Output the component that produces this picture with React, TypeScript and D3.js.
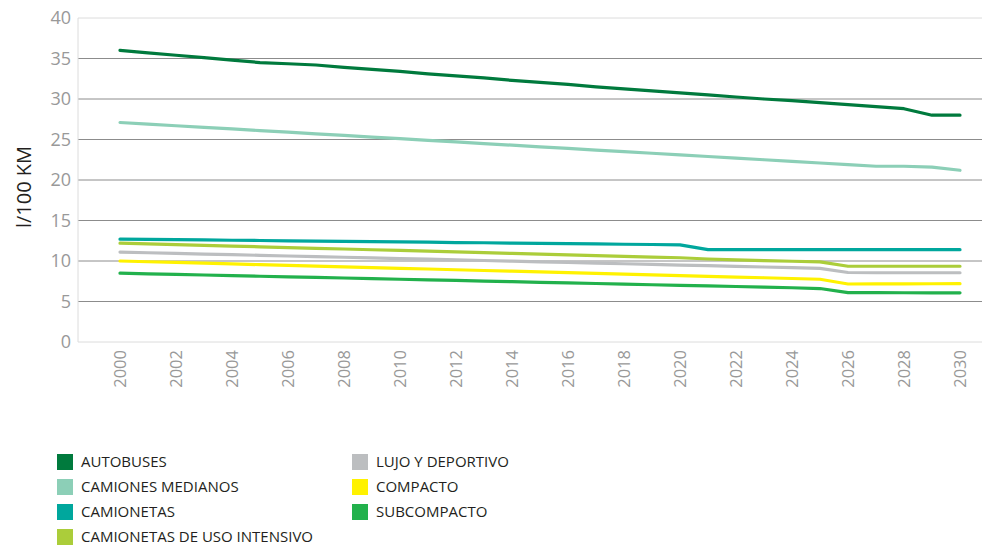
import React from "react";
import * as d3 from "d3";

const years = d3.range(2000, 2031);

const autobuses = [36.0, 35.7, 35.4, 35.1, 34.8, 34.5, 34.35, 34.2, 33.9, 33.65, 33.4, 33.1, 32.85, 32.6, 32.3, 32.05, 31.8, 31.5, 31.25, 31.0, 30.75, 30.5, 30.25, 30.0, 29.8, 29.55, 29.3, 29.05, 28.8, 28.0, 28.0];
const camionesMedianos = [27.1, 26.9, 26.7, 26.5, 26.3, 26.1, 25.9, 25.7, 25.5, 25.3, 25.1, 24.9, 24.7, 24.5, 24.3, 24.1, 23.9, 23.7, 23.5, 23.3, 23.1, 22.9, 22.7, 22.5, 22.3, 22.1, 21.9, 21.7, 21.7, 21.6, 21.2];
const camionetas = [12.7, 12.67, 12.63, 12.6, 12.56, 12.53, 12.49, 12.46, 12.42, 12.39, 12.35, 12.32, 12.28, 12.25, 12.21, 12.18, 12.14, 12.11, 12.07, 12.04, 12.0, 11.4, 11.4, 11.4, 11.4, 11.4, 11.4, 11.4, 11.4, 11.4, 11.4];
const usoIntensivo = [12.2, 12.11, 12.02, 11.93, 11.84, 11.75, 11.66, 11.57, 11.48, 11.39, 11.3, 11.21, 11.12, 11.03, 10.94, 10.85, 10.76, 10.67, 10.58, 10.49, 10.4, 10.25, 10.15, 10.05, 9.97, 9.9, 9.35, 9.35, 9.35, 9.35, 9.35];
const lujoDeportivo = [11.1, 11.02, 10.94, 10.86, 10.78, 10.7, 10.62, 10.54, 10.46, 10.38, 10.3, 10.22, 10.14, 10.06, 9.98, 9.9, 9.82, 9.74, 9.66, 9.58, 9.5, 9.42, 9.34, 9.26, 9.18, 9.08, 8.58, 8.55, 8.55, 8.55, 8.55];
const compacto = [10.0, 9.91, 9.82, 9.73, 9.64, 9.55, 9.46, 9.37, 9.28, 9.19, 9.1, 9.01, 8.92, 8.83, 8.74, 8.65, 8.56, 8.47, 8.38, 8.29, 8.2, 8.11, 8.02, 7.93, 7.84, 7.75, 7.16, 7.17, 7.18, 7.19, 7.2];
const subcompacto = [8.5, 8.42, 8.35, 8.27, 8.2, 8.12, 8.05, 7.97, 7.9, 7.82, 7.75, 7.67, 7.6, 7.52, 7.45, 7.37, 7.3, 7.22, 7.15, 7.07, 7.0, 6.92, 6.85, 6.77, 6.7, 6.6, 6.1, 6.09, 6.08, 6.07, 6.07];

const seriesNames = ["AUTOBUSES", "CAMIONES MEDIANOS", "CAMIONETAS", "CAMIONETAS DE USO INTENSIVO", "LUJO Y DEPORTIVO", "COMPACTO", "SUBCOMPACTO"];
const seriesValues = [autobuses, camionesMedianos, camionetas, usoIntensivo, lujoDeportivo, compacto, subcompacto];
const seriesColors = ["#007a3d", "#8ccfb7", "#00a79d", "#abcd3a", "#bcbec0", "#fff200", "#22b14c"];

const yTicks = [0, 5, 10, 15, 20, 25, 30, 35, 40];
const xTicks = d3.range(2000, 2031, 2);
const yTitle = "l/100 KM";

export default function App() {
  const W = 984, H = 548;
  const left = 78, right = 982, top = 18, bottom = 342;
  const x = d3.scaleLinear().domain([2000, 2030]).range([120, 960]);
  const y = d3.scaleLinear().domain([0, 40]).range([bottom, top]);
  const line = d3.line<number>().x((_, i) => x(years[i])).y((d) => y(d));
  const font = "'Open Sans', sans-serif";

  const legendCols = [
    { x: 57, items: [0, 1, 2, 3] },
    { x: 352, items: [4, 5, 6] },
  ];

  return (
    <svg width={W} height={H} style={{ position: "absolute", left: 0, top: 0, background: "#fff" }}>
      {yTicks.map((t) => (
        <line key={t} x1={left} x2={right} y1={y(t)} y2={y(t)}
          stroke={t === 0 || t === 40 ? "#dcdcdc" : "#8c8c8c"} strokeWidth={1} />
      ))}
      <line x1={left} x2={left} y1={top} y2={bottom} stroke="#dcdcdc" strokeWidth={1} />
      {yTicks.map((t) => (
        <text key={t} x={71} y={y(t)} dy="0.35em" textAnchor="end" fontFamily={font}
          fontSize={18} fill="#999999">{t}</text>
      ))}
      {xTicks.map((t) => (
        <text key={t} transform={`translate(${x(t)},350) rotate(-90)`} dy="0.35em" textAnchor="end"
          fontFamily={font} fontSize={16.5} fill="#999999">{t}</text>
      ))}
      <text transform={`translate(24,${187}) rotate(-90)`} dy="0.35em" textAnchor="middle"
        fontFamily={font} fontSize={20} fill="#231f20">{yTitle}</text>
      {seriesValues.map((vals, i) => (
        <path key={i} d={line(vals) || ""} fill="none" stroke={seriesColors[i]} strokeWidth={3.2}
          strokeLinejoin="round" strokeLinecap="round" />
      ))}
      {legendCols.map((col, ci) =>
        col.items.map((si, ri) => (
          <g key={`${ci}-${si}`} transform={`translate(${col.x},${462 + ri * 25})`}>
            <rect x={0} y={-8} width={16} height={16} fill={seriesColors[si]} />
            <text x={24} y={0} dy="0.35em" fontFamily={font} fontSize={15} fill="#231f20">{seriesNames[si]}</text>
          </g>
        ))
      )}
    </svg>
  );
}
